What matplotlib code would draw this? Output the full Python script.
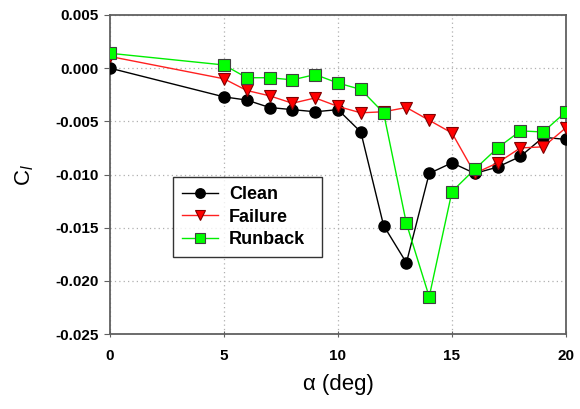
import matplotlib
matplotlib.use("Agg")
import matplotlib.pyplot as plt

plt.rcParams['font.family'] = ['Liberation Sans', 'DejaVu Sans']
plt.rcParams['mathtext.fontset'] = 'custom'
plt.rcParams['mathtext.rm'] = 'Liberation Sans'
plt.rcParams['mathtext.it'] = 'Liberation Sans:italic'

alpha = [0, 5, 6, 7, 8, 9, 10, 11, 12, 13, 14, 15, 16, 17, 18, 19, 20]
clean = [0.0000, -0.0027, -0.0030, -0.0037, -0.0039, -0.0041, -0.0039, -0.0060,
         -0.0148, -0.0183, -0.0099, -0.0089, -0.0099, -0.0093, -0.0083, -0.0065, -0.0067]
failure = [0.0011, -0.0010, -0.0021, -0.0026, -0.0033, -0.0028, -0.0036, -0.0042,
           -0.0041, -0.0037, -0.0049, -0.0061, -0.0099, -0.0089, -0.0075, -0.0074, -0.0056]
runback = [0.0014, 0.0003, -0.0009, -0.0009, -0.0011, -0.0006, -0.0014, -0.0020,
           -0.0042, -0.0146, -0.0215, -0.0116, -0.0095, -0.0075, -0.0059, -0.0060, -0.0041]
xticks = [0, 5, 10, 15, 20]
yticks = [0.005, 0.000, -0.005, -0.010, -0.015, -0.020, -0.025]

fig = plt.figure(figsize=(5.8, 4.09), dpi=100)
ax = fig.add_axes([110/580, 1-334/409, 456/580, 319/409])

ax.plot(alpha, clean, '-o', color='black', lw=1, ms=8, mfc='black', mec='black', label='Clean', zorder=3)
ax.plot(alpha, failure, '-v', color='#ff2020', lw=1, ms=9, mfc='red', mec='#800000', mew=0.8, label='Failure', zorder=4)
ax.plot(alpha, runback, '-s', color='#00ee00', lw=1, ms=8, mfc='#00ff00', mec='#404040', mew=0.8, label='Runback', zorder=5)

ax.set_xlim(0, 20)
ax.set_ylim(-0.025, 0.005)
ax.set_xticks(xticks)
ax.set_yticks(yticks)
ax.set_xticklabels([str(v) for v in xticks], fontweight='bold', fontsize=11)
ax.set_yticklabels([f"{v:.3f}" for v in yticks], fontweight='bold', fontsize=11)
ax.grid(True, color='#b0b0b0', linestyle=(0, (1, 2.5)), lw=0.9)
for s in ax.spines.values():
    s.set_color('#606060')
    s.set_linewidth(1.3)
ax.tick_params(axis='y', direction='out', length=4, color='#606060', pad=4)
ax.tick_params(axis='x', direction='inout', length=5, color='#606060', pad=8)

ax.set_xlabel('α (deg)', fontsize=16, labelpad=8)
ax.set_ylabel(r'$\mathrm{C}_l$', fontsize=16, labelpad=14)

leg = ax.legend(loc='lower left', bbox_to_anchor=(0.138, 0.241, 0.327, 0.263), mode='expand',
                prop={'weight': 'bold', 'size': 13}, frameon=True, fancybox=False,
                edgecolor='black', handlelength=2.0, handletextpad=0.6, borderaxespad=0,
                labelspacing=0.3, borderpad=0.5, markerscale=0.85)
leg.get_frame().set_linewidth(1.0)

fig.savefig('out.png', dpi=100)
